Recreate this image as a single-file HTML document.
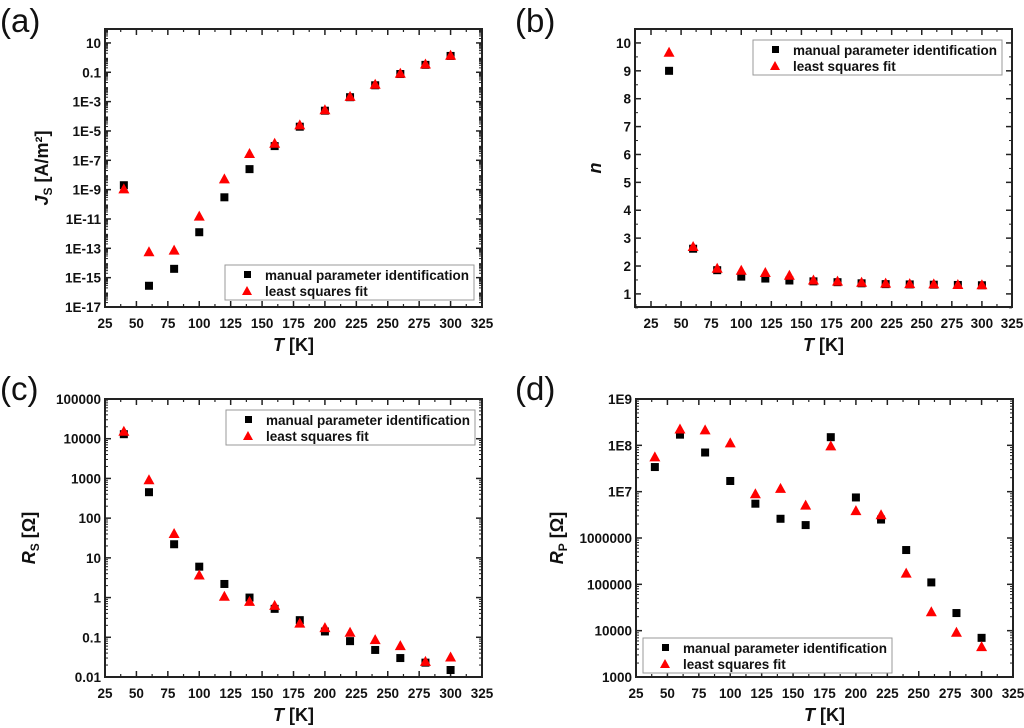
<!DOCTYPE html>
<html><head><meta charset="utf-8"><style>
body{margin:0;background:#fff;}
svg{display:block;font-family:"Liberation Sans",Arial,sans-serif;}
.tl{font-size:13.5px;font-weight:bold;fill:#111;}
.at{font-size:18px;font-weight:bold;fill:#111;}
.pl{font-size:33px;fill:#111;}
.lg{font-size:13.5px;font-weight:bold;fill:#111;}
</style></head><body>
<svg id="fig" width="1024" height="728" viewBox="0 0 1024 728"></svg>
<script>
const temps=[40,60,80,100,120,140,160,180,200,220,240,260,280,300];
const jsManual=[2e-9,2.8e-16,4e-15,1.25e-12,3e-10,2.5e-8,9.3e-7,1.95e-5,2.4e-4,2e-3,1.3e-2,7.6e-2,0.32,1.3];
const jsFit=[1.05e-9,5.4e-14,6.9e-14,1.45e-11,5e-9,2.7e-7,1.35e-6,2.4e-5,2.6e-4,2.1e-3,1.4e-2,8e-2,0.34,1.35];
const nManual=[9.0,2.62,1.85,1.62,1.55,1.48,1.45,1.42,1.38,1.35,1.34,1.33,1.32,1.31];
const nFit=[9.65,2.68,1.9,1.83,1.75,1.65,1.48,1.44,1.4,1.37,1.35,1.34,1.32,1.31];
const rsManual=[13000,450,22,6,2.2,1.0,0.52,0.27,0.14,0.08,0.048,0.03,0.023,0.015];
const rsFit=[15000,900,40,3.6,1.05,0.78,0.62,0.22,0.17,0.13,0.085,0.06,0.024,0.031];
const rpManual=[3.4e7,1.7e8,7e7,1.7e7,5.5e6,2.6e6,1.9e6,1.5e8,7.5e6,2.5e6,5.5e5,1.1e5,24000,7000];
const rpFit=[5.5e7,2.2e8,2.1e8,1.1e8,8.8e6,1.15e7,5e6,9.5e7,3.8e6,3.1e6,1.7e5,25000,9000,4400];
const xTicksA=[25,50,75,100,125,150,175,200,225,250,275,300,325];
const jsTicks=["1E-17","1E-15","1E-13","1E-11","1E-9","1E-7","1E-5","1E-3","0.1","10"];
const nTicks=["1","2","3","4","5","6","7","8","9","10"];
const rsTicks=["0.01","0.1","1","10","100","1000","10000","100000"];
const rpTicks=["1000","10000","100000","1000000","1E7","1E8","1E9"];

const svg=document.getElementById('fig');
const NS='http://www.w3.org/2000/svg';
function mk(tag,attrs,parent,text){const e=document.createElementNS(NS,tag);for(const k in attrs)e.setAttribute(k,attrs[k]);if(text!==undefined)e.textContent=text;(parent||svg).appendChild(e);return e;}

function panel(cfg){
  const g=mk('g',{});
  
  
  const L=cfg.box[0],T=cfg.box[1],R=cfg.box[2],B=cfg.box[3];
  const xs=v=>L+(v-cfg.xmin)/(cfg.xmax-cfg.xmin)*(R-L);
  const ty=v=>cfg.log?Math.log10(v):v;
  const ys=v=>B-(ty(v)-cfg.ymin)/(cfg.ymax-cfg.ymin)*(B-T);
  for(const t of xTicksA){
    const x=xs(t);
    mk('line',{x1:x,x2:x,y1:B,y2:B-6,stroke:'#222','stroke-width':1.5},g);
    mk('line',{x1:x,x2:x,y1:T,y2:T+6,stroke:'#222','stroke-width':1.5},g);
    const lab=mk('text',{x:x,y:B+21,'text-anchor':'middle',class:'tl'},g,String(t));
    
    
    const m=x+(xs(12.5)-xs(0));
    if(t<325){mk('line',{x1:m,x2:m,y1:B,y2:B-3,stroke:'#222','stroke-width':1.2},g);mk('line',{x1:m,x2:m,y1:T,y2:T+3,stroke:'#222','stroke-width':1.2},g);}
  }
  if(cfg.xmin<25){const m=xs(12.5);mk('line',{x1:m,x2:m,y1:B,y2:B-3,stroke:'#222'},g);}
  cfg.yTicks.forEach(lbl=>{
    const v=parseFloat(lbl);const y=ys(v);
    mk('line',{x1:L,x2:L+6,y1:y,y2:y,stroke:'#222','stroke-width':1.5},g);
    mk('line',{x1:R,x2:R-6,y1:y,y2:y,stroke:'#222','stroke-width':1.5},g);
    const lab=mk('text',{x:L-4,y:y+5,'text-anchor':'end',class:'tl'},g,lbl);
    
    
  });
  if(cfg.log){
    for(let d=Math.floor(cfg.ymin);d<cfg.ymax;d++){for(let k=2;k<=9;k++){const lv=d+Math.log10(k);if(lv<cfg.ymin||lv>cfg.ymax)continue;const y=B-(lv-cfg.ymin)/(cfg.ymax-cfg.ymin)*(B-T);const len=3;
      mk('line',{x1:L,x2:L+len,y1:y,y2:y,stroke:'#222','stroke-width':1},g);mk('line',{x1:R,x2:R-len,y1:y,y2:y,stroke:'#222','stroke-width':1},g);}}
  } else {
    for(let v=0.5;v<=10.5;v+=0.5){if(v%1===0)continue;const y=ys(v);mk('line',{x1:L,x2:L+3,y1:y,y2:y,stroke:'#222'},g);mk('line',{x1:R,x2:R-3,y1:y,y2:y,stroke:'#222'},g);}
  }
  const box=mk('rect',{x:L,y:T,width:R-L,height:B-T,fill:'none',stroke:'#222','stroke-width':2},g);
  
  
  const lg=cfg.legend;
  const leg=mk('g',{},g);
  
  
  mk('rect',{x:lg[0],y:lg[1],width:249,height:35,fill:'#fff',stroke:'#999','stroke-width':1},leg);
  const e1=mk('g',{},leg);
  
  
  mk('rect',{x:lg[0]+19,y:lg[1]+6,width:7,height:7,fill:'#000'},e1);
  mk('text',{x:lg[0]+40,y:lg[1]+15,class:'lg'},e1,'manual parameter identification');
  const e2=mk('g',{},leg);
  
  
  const tx=lg[0]+22,tyy=lg[1]+26;
  mk('polygon',{points:`${tx-5},${tyy+4} ${tx+5},${tyy+4} ${tx},${tyy-5}`,fill:'#f00'},e2);
  mk('text',{x:lg[0]+40,y:lg[1]+31,class:'lg'},e2,'least squares fit');
  temps.forEach((t,i)=>{
    const x=xs(t),y=ys(cfg.manual[i]);
    const s=mk('rect',{x:x-4,y:y-4,width:8,height:8,fill:'#000'},g);
    
    
  });
  temps.forEach((t,i)=>{
    const x=xs(t),y=ys(cfg.fit[i]);
    const p=mk('polygon',{points:`${x-5.5},${y+4} ${x+5.5},${y+4} ${x},${y-6}`,fill:'#f00'},g);
    
    
  });
  const xt=mk('text',{x:(L+R)/2,y:B+44,'text-anchor':'middle',class:'at'},g);
  
  
  xt.innerHTML='<tspan font-style="italic">T</tspan>  [K]';
  const yt=mk('text',{transform:`translate(${cfg.ytx},${(T+B)/2}) rotate(-90)`,'text-anchor':'middle',class:'at'},g);
  
  
  yt.innerHTML=cfg.ytitle;
  const pl=mk('text',{x:cfg.plx,y:cfg.ply,class:'pl'},g,cfg.label);
  
  
}
panel({name:'panel-a-js',box:[105,29,482,307],xmin:25,xmax:325,log:true,ymin:-17,ymax:1.95,yTicks:jsTicks,manual:jsManual,fit:jsFit,legend:[225,265],
  ytitle:'<tspan font-style="italic">J</tspan><tspan font-size="12" dy="4">S</tspan><tspan dy="-4"> [A/m²]</tspan>',ytx:48,label:'(a)',plx:0,ply:32});
panel({name:'panel-b-n',box:[635,29,1012,307],xmin:11.7,xmax:325,log:false,ymin:0.53,ymax:10.5,yTicks:nTicks,manual:nManual,fit:nFit,legend:[753,40],
  ytitle:'<tspan font-style="italic">n</tspan>',ytx:601,label:'(b)',plx:515,ply:32});
panel({name:'panel-c-rs',box:[105,399,482,677],xmin:25,xmax:325,log:true,ymin:-2,ymax:5,yTicks:rsTicks,manual:rsManual,fit:rsFit,legend:[226,410],
  ytitle:'<tspan font-style="italic">R</tspan><tspan font-size="12" dy="4">S</tspan><tspan dy="-4"> [Ω]</tspan>',ytx:35,label:'(c)',plx:0,ply:400});
panel({name:'panel-d-rp',box:[636,399,1013,677],xmin:25,xmax:325,log:true,ymin:3,ymax:9,yTicks:rpTicks,manual:rpManual,fit:rpFit,legend:[643,638],
  ytitle:'<tspan font-style="italic">R</tspan><tspan font-size="12" dy="4">P</tspan><tspan dy="-4"> [Ω]</tspan>',ytx:563,label:'(d)',plx:515,ply:400});
</script>
</body></html>
